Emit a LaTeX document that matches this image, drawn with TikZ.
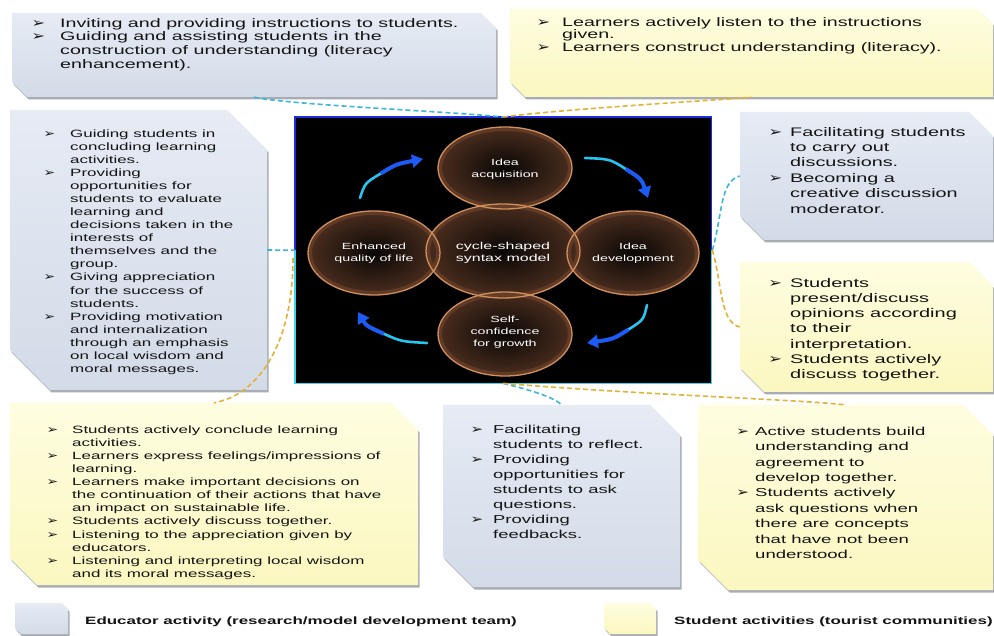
\documentclass[tikz,border=0pt]{standalone}
\usepackage{fontspec}
\setmainfont{Liberation Sans}[FakeStretch=1.6]
\newfontfamily\symf{DejaVu Sans}[FakeStretch=1.25]
\usetikzlibrary{shapes.geometric,arrows.meta,calc}
\definecolor{blueboxtop}{HTML}{E6EBF4}
\definecolor{blueboxbot}{HTML}{D3DBE8}
\definecolor{yelboxtop}{HTML}{FEFDE0}
\definecolor{yelboxbot}{HTML}{FBF7C0}
\definecolor{txtc}{HTML}{141414}
\definecolor{cyanline}{HTML}{3BB6D8}
\definecolor{goldline}{HTML}{E2B232}
\definecolor{rim}{HTML}{D08F5E}
\definecolor{rimdark}{HTML}{6A4029}
\definecolor{ellin}{HTML}{0A0706}
\definecolor{ellout}{HTML}{4A2D1E}
\definecolor{arrcyan}{HTML}{26C4EE}
\definecolor{arrblue}{HTML}{1C5CF5}
\definecolor{frameblue}{HTML}{1E2BE0}
\definecolor{framecyan}{HTML}{3AD6EE}
\definecolor{shadowc}{HTML}{A9ADB3}
\newcommand\blt[1]{\llap{\scalebox{1.05}{\symf ➢}\hspace{#1}}}
% name, x1, y1, x2, y2, bevel, colour prefix
\newcommand\snipbox[7]{%
  \fill[shadowc] (#2+1.5,#3+2.5) -- (#4+1.5-#6,#3+2.5) -- (#4+1.5,#3+2.5+#6) -- (#4+1.5,#5+2.5) -- (#2+1.5+#6,#5+2.5) -- (#2+1.5,#5+2.5-#6) -- cycle;
  \shade[top color=#7boxtop, bottom color=#7boxbot] (#2,#3) -- (#4-#6,#3) -- (#4,#3+#6) -- (#4,#5) -- (#2+#6,#5) -- (#2,#5-#6) -- cycle;
  \node[inner sep=0pt, minimum width={(#4-#2)*1pt}, minimum height={(#5-#3)*1pt}] (#1) at ({(#2+#4)/2},{(#3+#5)/2}) {};
}
\begin{document}
\begin{tikzpicture}[x=1pt,y=-1pt,
  txt/.style={anchor=north west, inner sep=0pt, align=left, text=txtc},
  ell/.style={ellipse, inner sep=0pt, inner color=ellin, outer color=ellout},
  elltxt/.style={align=center, text=white, inner sep=0pt, font=\fontsize{8.9}{12}\selectfont},
  rimglow/.style={rimdark, line width=4pt, opacity=0.75},
  rimline/.style={rim, line width=1.3pt},
  cyanlink/.style={cyanline, line width=1.6pt, dash pattern=on 5pt off 3pt},
  goldlink/.style={goldline, line width=1.6pt, dash pattern=on 5pt off 3pt},
  arrtail/.style={arrcyan, line width=2.6pt, line cap=round},
  arrhead/.style={arrblue, line width=4pt, -{Triangle[width=13pt,length=11pt]}}]
\useasboundingbox (0,0) rectangle (994,636);
\fill[white] (0,0) rectangle (994,636);

% boxes
\snipbox{tl}{12}{13}{496}{97}{15}{blue}
\snipbox{tr}{510}{9}{993}{97}{15}{yel}
\snipbox{lb}{10}{110}{267}{390}{40}{blue}
\snipbox{rb}{740}{112}{993}{240}{24}{blue}
\snipbox{ry}{740}{262}{993}{392}{24}{yel}
\snipbox{bl}{10}{403}{418}{585}{27}{yel}
\snipbox{bm}{443}{405}{680}{587}{30}{blue}
\snipbox{br}{698}{405}{993}{590}{30}{yel}
\snipbox{legb}{15}{603}{68}{634}{6}{blue}
\snipbox{legy}{604}{603}{656}{634}{6}{yel}

% central frame
\node[anchor=north west, inner sep=0pt, minimum width=416pt, minimum height=266pt, fill=black] (frame) at (295,117) {};
\draw[frameblue, line width=1.6pt] (frame.west) -- (frame.north west) -- (frame.north east) -- (frame.east);
\draw[framecyan, line width=1.6pt] (frame.west) -- (frame.south west) -- (frame.south east) -- (frame.east);

% ellipses
\node[ell, minimum width=134pt, minimum height=82pt] (acq) at (505,168) {};
\node[ell, minimum width=132pt, minimum height=84pt] (dev) at (633,253) {};
\node[ell, minimum width=134pt, minimum height=84pt] (slf) at (505,334) {};
\node[ell, minimum width=132pt, minimum height=84pt] (enh) at (374,253) {};
\node[ell, minimum width=154pt, minimum height=94pt] (ctr) at (503,251) {};
\foreach \n/\rx/\ry in {acq/67/41, dev/66/42, slf/67/42, enh/66/42, ctr/77/47}{
  \draw[rimglow] (\n.center) ellipse [x radius=\rx pt-2pt, y radius=\ry pt-2pt];
}
\foreach \n/\rx/\ry in {acq/67/41, dev/66/42, slf/67/42, enh/66/42, ctr/77/47}{
  \draw[rimline] (\n.center) ellipse [x radius=\rx pt, y radius=\ry pt];
}
\node[elltxt] (acqt) at (505,169) {Idea\\acquisition};
\node[elltxt] (devt) at (633,253) {Idea\\development};
\node[elltxt] (slft) at (505,332) {Self-\\confidence\\for growth};
\node[elltxt] (enht) at (374,253) {Enhanced\\quality of life};
\node[elltxt, font=\fontsize{10}{12}\selectfont] (ctrt) at (503,253) {cycle-shaped\\syntax model};

% cycle arrows
\draw[arrtail] (360,198) .. controls (365,183) .. (380.75,173.5);
\draw[arrhead] (380.75,173.5) .. controls (396.5,164) .. (423,159);
\draw[arrtail] (585,158) .. controls (610,159) .. (625.75,169);
\draw[arrhead] (625.75,169) .. controls (641.5,179) .. (648,198);
\draw[arrtail] (647,305) .. controls (643.5,320) .. (628.5,329.5);
\draw[arrhead] (628.5,329.5) .. controls (613.5,339) .. (587,343);
\draw[arrtail] (427,343) .. controls (401,341.5) .. (383.75,333.75);
\draw[arrhead] (383.75,333.75) .. controls (366.5,326) .. (358,312);

% dashed connectors
\draw[cyanlink] (tl.south) .. controls +(40,8) and +(-60,-6) .. (frame.north);
\draw[goldlink] (frame.north) .. controls +(60,-8) and +(-50,4) .. (tr.south);
\draw[cyanlink] (lb.east) -- (frame.west);
\draw[goldlink] ([xshift=-2pt,yshift=-8pt]frame.west) .. controls +(0,85) and +(45,-8) .. (bl.north);
\draw[cyanlink] ([xshift=1pt]frame.east) .. controls +(10,-35) and +(-20,5) .. (rb.west);
\draw[goldlink] ([xshift=1pt]frame.east) .. controls +(10,35) and +(-20,-5) .. (ry.west);
\draw[cyanlink] (frame.south) .. controls +(25,6) and +(-8,-8) .. (bm.north);
\draw[goldlink] (frame.south) .. controls +(150,12) and +(-60,-6) .. (br.north);

% box texts
\node[txt, font=\fontsize{12.3}{13.7}\selectfont] (tlt) at (60,18) {\blt{15pt}Inviting and providing instructions to students.\\\blt{15pt}Guiding and assisting students in the\\construction of understanding (literacy\\enhancement).};
\node[txt, font=\fontsize{12.3}{12.5}\selectfont] (trt) at (562,17) {\blt{12pt}Learners actively listen to the instructions\\given.\\\blt{12pt}Learners construct understanding (literacy).};
\node[txt, font=\fontsize{10.6}{13.06}\selectfont] (lbt) at (70,129.4) {\blt{15pt}Guiding students in\\concluding learning\\activities.\\\blt{15pt}Providing\\opportunities for\\students to evaluate\\learning and\\decisions taken in the\\interests of\\themselves and the\\group.\\\blt{15pt}Giving appreciation\\for the success of\\students.\\\blt{15pt}Providing motivation\\and internalization\\through an emphasis\\on local wisdom and\\moral messages.};
\node[txt, font=\fontsize{12.4}{15.4}\selectfont] (rbt) at (790,127) {\blt{8pt}Facilitating students\\to carry out\\discussions.\\\blt{8pt}Becoming a\\creative discussion\\moderator.};
\node[txt, font=\fontsize{12.5}{15.2}\selectfont] (ryt) at (790,278) {\blt{8pt}Students\\present/discuss\\opinions according\\to their\\interpretation.\\\blt{8pt}Students actively\\discuss together.};
\node[txt, font=\fontsize{10.6}{13.1}\selectfont] (blt) at (72,425.4) {\blt{14pt}Students actively conclude learning\\activities.\\\blt{14pt}Learners express feelings/impressions of\\learning.\\\blt{14pt}Learners make important decisions on\\the continuation of their actions that have\\an impact on sustainable life.\\\blt{14pt}Students actively discuss together.\\\blt{14pt}Listening to the appreciation given by\\educators.\\\blt{14pt}Listening and interpreting local wisdom\\and its moral messages.};
\node[txt, font=\fontsize{11.5}{15}\selectfont] (bmt) at (493,424.8) {\blt{10pt}Facilitating\\students to reflect.\\\blt{10pt}Providing\\opportunities for\\students to ask\\questions.\\\blt{10pt}Providing\\feedbacks.};
\node[txt, font=\fontsize{11.6}{15.4}\selectfont] (brt) at (755,426.7) {\blt{6pt}Active students build\\understanding and\\agreement to\\develop together.\\\blt{6pt}Students actively\\ask questions when\\there are concepts\\that have not been\\understood.};

% legend
\node[anchor=west, inner sep=0pt, text=txtc, font=\bfseries\fontsize{10.6}{12}\selectfont] (legbt) at (85,622) {Educator activity (research/model development team)};
\node[anchor=west, inner sep=0pt, text=txtc, font=\bfseries\fontsize{10.6}{12}\selectfont] (legyt) at (674,622) {Student activities (tourist communities)};
\end{tikzpicture}
\end{document}
